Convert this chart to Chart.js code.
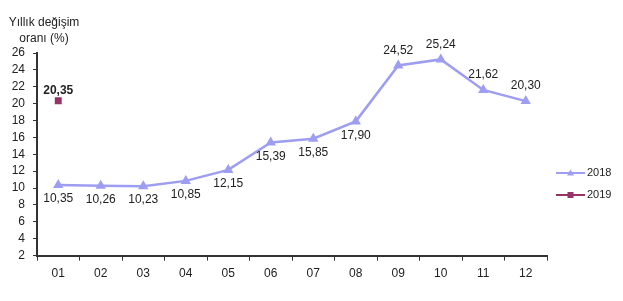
<!DOCTYPE html>
<html>
<head>
<meta charset="utf-8">
<script src="https://cdn.jsdelivr.net/npm/chart.js@4"></script>
<style>
  html, body { margin: 0; padding: 0; background: #fff; }
  #wrap { width: 623px; height: 301px; position: relative; }
</style>
</head>
<body>
<div id="wrap"><canvas id="chart"></canvas></div>
<script>
const months = ['01', '02', '03', '04', '05', '06', '07', '08', '09', '10', '11', '12'];
const values2018 = [10.35, 10.26, 10.23, 10.85, 12.15, 15.39, 15.85, 17.90, 24.52, 25.24, 21.62, 20.30];
const values2019 = [20.35, null, null, null, null, null, null, null, null, null, null, null];
const seriesNames = ['2018', '2019'];
const yTitle = ['Yıllık değişim', 'oranı (%)'];

const fmt = v => v.toFixed(2).replace('.', ',');

// labels below points for the first part of 2018, above for the rest
const labelsAbove2018 = [false, false, false, false, false, false, false, false, true, true, true, true];

const labelPlugin = {
    id: 'labels',
    afterDatasetsDraw(chart) {
        const ctx = chart.ctx;
        ctx.save();
        ctx.textAlign = 'center';
        ctx.fillStyle = '#222';
        chart.data.datasets.forEach((ds, di) => {
            const meta = chart.getDatasetMeta(di);
            meta.data.forEach((pt, i) => {
                const v = ds.data[i];
                if (v == null) return;
                const bold = di === 1;
                ctx.font = (bold ? 'bold ' : '') + '12px "Liberation Sans", Arial, sans-serif';
                if (di === 1) {
                    ctx.textBaseline = 'bottom';
                    ctx.fillText(fmt(v), pt.x, pt.y - 4.5);
                } else if (labelsAbove2018[i]) {
                    ctx.textBaseline = 'bottom';
                    ctx.fillText(fmt(v), pt.x, pt.y - 9);
                } else {
                    ctx.textBaseline = 'top';
                    ctx.fillText(fmt(v), pt.x, pt.y + 8);
                }
            });
        });

        // y-axis title
        ctx.font = '12px "Liberation Sans", Arial, sans-serif';
        ctx.textBaseline = 'middle';
        ctx.fillStyle = '#222';
        ctx.fillText(yTitle[0], 44, 23);
        ctx.fillText(yTitle[1], 44, 39);

        // legend
        const lx = 556, lw = 29;
        chart.data.datasets.forEach((ds, di) => {
            const ly = 173 + di * 22;
            ctx.strokeStyle = ds.borderColor;
            ctx.lineWidth = 2;
            ctx.beginPath();
            ctx.moveTo(lx, ly);
            ctx.lineTo(lx + lw, ly);
            ctx.stroke();
            ctx.fillStyle = ds.pointBackgroundColor;
            const cx = lx + lw / 2;
            if (ds.pointStyle === 'triangle') {
                ctx.beginPath();
                ctx.moveTo(cx, ly - 3.5);
                ctx.lineTo(cx + 3.5, ly + 2.5);
                ctx.lineTo(cx - 3.5, ly + 2.5);
                ctx.closePath();
                ctx.fill();
            } else {
                ctx.fillRect(cx - 3, ly - 3, 6, 6);
            }
            ctx.fillStyle = '#222';
            ctx.font = '11px "Liberation Sans", Arial, sans-serif';
            ctx.textAlign = 'left';
            ctx.fillText(seriesNames[di], lx + lw + 2, ly);
            ctx.textAlign = 'center';
        });
        ctx.restore();
    }
};

new Chart(document.getElementById('chart'), {
    type: 'line',
    data: {
        labels: months,
        datasets: [
            {
                label: seriesNames[0],
                data: values2018,
                borderColor: '#9d9df2',
                backgroundColor: '#9d9df2',
                pointBackgroundColor: '#9d9df2',
                pointBorderColor: '#9d9df2',
                pointStyle: 'triangle',
                pointRadius: 3.5,
                borderWidth: 2.5,
                tension: 0
            },
            {
                label: seriesNames[1],
                data: values2019,
                borderColor: '#993366',
                backgroundColor: '#993366',
                pointBackgroundColor: '#993366',
                pointBorderColor: '#993366',
                pointStyle: 'rect',
                pointRadius: 3.5,
                borderWidth: 2,
                showLine: false
            }
        ]
    },
    options: {
        responsive: true,
        maintainAspectRatio: false,
        animation: false,
        layout: { padding: { left: 0, right: 76, top: 53, bottom: 14 } },
        plugins: {
            legend: { display: false },
            tooltip: { enabled: false }
        },
        scales: {
            x: {
                offset: true,
                grid: {
                    offset: true,
                    drawOnChartArea: false,
                    drawTicks: true,
                    tickLength: 5,
                    color: '#333'
                },
                border: { color: '#333', width: 2 },
                ticks: {
                    color: '#222',
                    font: { size: 12, family: '"Liberation Sans", Arial, sans-serif' },
                    padding: 6
                }
            },
            y: {
                min: 2,
                max: 26,
                afterFit(scale) { scale.width = 37; },
                grid: {
                    drawOnChartArea: false,
                    drawTicks: true,
                    tickLength: 4,
                    color: '#333'
                },
                border: { color: '#333', width: 2 },
                ticks: {
                    stepSize: 2,
                    autoSkip: false,
                    color: '#222',
                    font: { size: 12, family: '"Liberation Sans", Arial, sans-serif' },
                    padding: 8
                }
            }
        }
    },
    plugins: [labelPlugin]
});
</script>
</body>
</html>
